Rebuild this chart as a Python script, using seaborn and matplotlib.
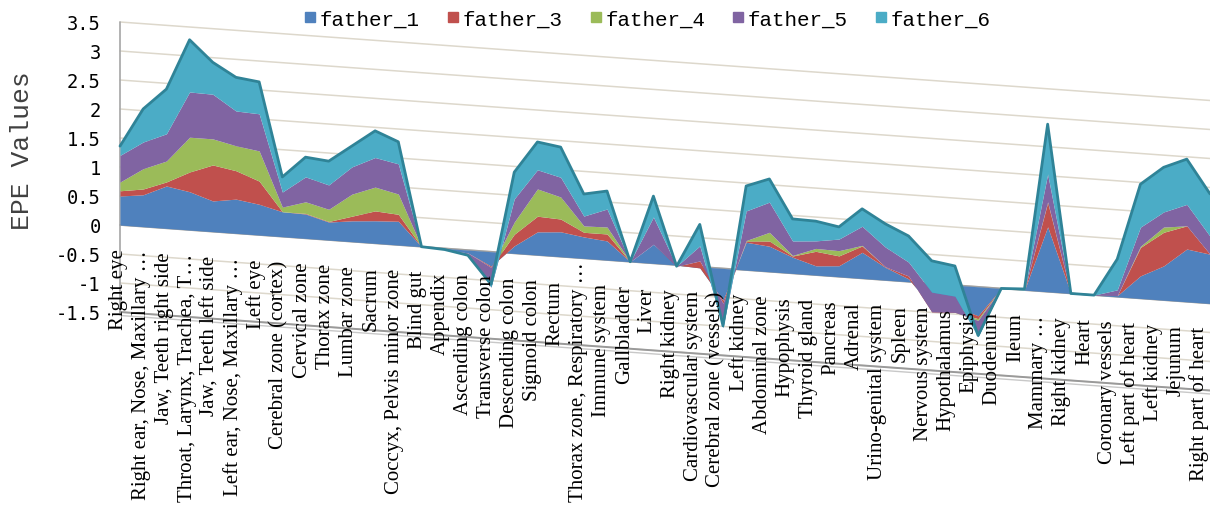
import numpy as np
import matplotlib
matplotlib.use("Agg")
import matplotlib.pyplot as plt
import matplotlib.transforms as mtransforms
from matplotlib.lines import Line2D
import seaborn as sns

# categories along the x axis
categories = [
    "Right eye", "Right ear, Nose, Maxillary \u2026", "Jaw, Teeth right side",
    "Throat, Larynx, Trachea, T\u2026", "Jaw, Teeth left side", "Left ear, Nose, Maxillary \u2026",
    "Left eye", "Cerebral zone (cortex)", "Cervical zone", "Thorax zone", "Lumbar zone",
    "Sacrum", "Coccyx, Pelvis minor zone", "Blind gut", "Appendix", "Ascending colon",
    "Transverse colon", "Descending colon", "Sigmoid colon", "Rectum",
    "Thorax zone, Respiratory \u2026", "Immune system", "Gallbladder", "Liver",
    "Right kidney", "Cardiovascular system", "Cerebral zone (vessels)", "Left kidney",
    "Abdominal zone", "Hypophysis", "Thyroid gland", "Pancreas", "Adrenal",
    "Urino-genital system", "Spleen", "Nervous system", "Hypothalamus", "Epiphysis",
    "Duodenum", "Ileum", "Mammary \u2026", "Right kidney", "Heart", "Coronary vessels",
    "Left part of heart", "Left kidney", "Jejunum", "Right part of heart",
]

# series values
father_1 = [0.50, 0.55, 0.73, 0.66, 0.53, 0.59, 0.53, 0.43, 0.42, 0.31, 0.36, 0.39, 0.41,
            0.00, -0.02, -0.05, -0.25, 0.13, 0.40, 0.43, 0.37, 0.33, 0.00, 0.33, 0.00,
            -0.02, -0.55, 0.48, 0.44, 0.28, 0.16, 0.19, 0.45, 0.22, 0.05, -0.40, -0.38,
            -0.50, 0.00, 0.00, 1.12, 0.00, 0.00, 0.02, 0.39, 0.59, 0.91, 0.85]
father_3 = [0.09, 0.10, 0.07, 0.34, 0.62, 0.49, 0.40, 0.00, 0.01, 0.01, 0.08, 0.17, 0.12,
            0.00, 0.00, 0.00, -0.02, 0.20, 0.27, 0.22, 0.08, 0.12, 0.00, 0.00, -0.02,
            0.12, -0.05, 0.02, 0.09, 0.02, 0.25, 0.17, 0.11, 0.01, 0.05, -0.09, -0.09,
            -0.05, 0.00, 0.00, 0.42, 0.00, 0.00, 0.00, 0.49, 0.58, 0.40, 0.00]
father_4 = [0.15, 0.35, 0.36, 0.60, 0.45, 0.43, 0.52, 0.08, 0.20, 0.21, 0.38, 0.41, 0.35,
            0.00, 0.00, 0.00, 0.00, 0.21, 0.47, 0.38, 0.11, 0.12, 0.00, 0.00, 0.00,
            0.00, 0.00, 0.01, 0.15, 0.01, 0.05, 0.09, 0.01, 0.00, 0.00, 0.00, 0.00,
            -0.03, 0.00, 0.00, 0.01, 0.00, 0.00, 0.00, 0.02, 0.09, 0.00, 0.00]
father_5 = [0.46, 0.46, 0.47, 0.78, 0.77, 0.60, 0.64, 0.26, 0.43, 0.42, 0.47, 0.51, 0.52,
            0.00, 0.00, -0.02, -0.34, 0.40, 0.33, 0.34, 0.17, 0.31, 0.00, 0.47, 0.00,
            0.26, -0.42, 0.51, 0.52, 0.25, 0.13, 0.20, 0.33, 0.34, 0.24, 0.34, 0.28,
            -0.28, 0.00, 0.00, 0.48, 0.00, 0.00, 0.10, 0.33, 0.26, 0.37, 0.31]
father_6 = [0.16, 0.57, 0.77, 0.90, 0.55, 0.58, 0.55, 0.26, 0.34, 0.41, 0.36, 0.46, 0.38,
            0.00, 0.00, -0.02, 0.05, 0.46, 0.48, 0.52, 0.38, 0.31, 0.00, 0.36, 0.00,
            0.37, 0.03, 0.43, 0.40, 0.38, 0.34, 0.21, 0.30, 0.40, 0.45, 0.54, 0.52,
            0.02, 0.00, 0.02, 0.86, 0.00, 0.00, 0.53, 0.74, 0.77, 0.78, 0.73]

series_names = ["father_1", "father_3", "father_4", "father_5", "father_6"]
y_ticks = [-1.5, -1, -0.5, 0, 0.5, 1, 1.5, 2, 2.5, 3, 3.5]

sns.set_theme(style="white")
colors = sns.color_palette(["#4F81BD", "#C0504D", "#9BBB59", "#8064A2", "#4BACC6"])

fig = plt.figure(figsize=(12.1, 5.06), dpi=100)
ax = fig.add_axes([120 / 1210, 193 / 506, 1090 / 1210, 290 / 506])
n = len(categories)
ax.set_xlim(0, n - 1)
ax.set_ylim(-1.5, 3.5)
ax.set_autoscale_on(False)

# fake 3D perspective: slant everything down to the right
x0 = ax.transData.transform((0, 0))[0]
slant = 0.072
skew = mtransforms.Affine2D().translate(-x0, 0).skew(0, -np.arctan(slant)).translate(x0, 0)
tr = ax.transData + skew

x = np.arange(n)
stack = np.array([father_1, father_3, father_4, father_5, father_6])
cum = np.cumsum(stack, axis=0)

# gridlines / walls
for v in y_ticks:
    ax.plot([0, n - 1], [v, v], transform=tr, color="#DDD8CC", lw=1.1, zorder=0, clip_on=False)
ax.plot([0, n - 1], [0, 0], transform=tr, color="#A0A0A0", lw=1.2, zorder=0.5, clip_on=False)
ax.plot([0, n - 1], [-1.5, -1.5], transform=tr, color="#9A9A9A", lw=1.4, zorder=0.5, clip_on=False)
ax.plot([0, n - 1], [-1.56, -1.56], transform=tr, color="#C8C8C8", lw=1.0, zorder=0.5, clip_on=False)
ax.plot([0, 0], [-1.5, 3.5], transform=tr, color="#A6A6A6", lw=1.2, zorder=0.5, clip_on=False)

lower = np.zeros(n)
for k, name in enumerate(series_names):
    ax.fill_between(x, lower, cum[k], color=colors[k], lw=0, transform=tr,
                    zorder=2 + k * 0.1, clip_on=False)
    lower = cum[k]
ax.plot(x, cum[-1], transform=tr, color="#2F8397", lw=2.0, zorder=3, clip_on=False)

# category labels along the slanted floor
label_texts = []
for i, lab in enumerate(categories):
    t = ax.text(i * 0.992 - 0.08, -0.40, lab, transform=tr, rotation=90, ha="center", va="top",
                family="Liberation Serif", fontsize=15, color="black", zorder=5, clip_on=False)
    label_texts.append(t)

ax.set_xticks([])
ax.set_yticks(y_ticks)
ax.set_yticklabels([f"{v:g}" for v in y_ticks], family="DejaVu Sans Mono", fontsize=13.5,
                   color="black")
ax.tick_params(axis="y", length=0, pad=14)
for s in ax.spines.values():
    s.set_visible(False)
ax.patch.set_alpha(0)

fig.text(0.018, 1 - 151 / 506, "EPE Values", rotation=90, ha="center", va="center",
         family="Liberation Mono", fontsize=19, color="#404040")

handles = [Line2D([], [], marker="s", ls="none", markersize=7, color=c) for c in colors]
leg = fig.legend(handles, series_names, loc="center", bbox_to_anchor=(0.535, 1 - 20 / 506),
                 ncol=5, frameon=False, prop={"family": "Liberation Mono", "size": 15},
                 handlelength=0.6, handletextpad=0.15, columnspacing=1.3)
for txt in leg.get_texts():
    txt.set_color("black")

# long labels are pushed up so they stay inside the picture
fig.canvas.draw()
renderer = fig.canvas.get_renderer()
for t in label_texts:
    bb = t.get_window_extent(renderer)
    if bb.y0 < 4:
        t.set_transform(t.get_transform() + mtransforms.Affine2D().translate(0, 4 - bb.y0))

fig.savefig("out.png", dpi=100)
